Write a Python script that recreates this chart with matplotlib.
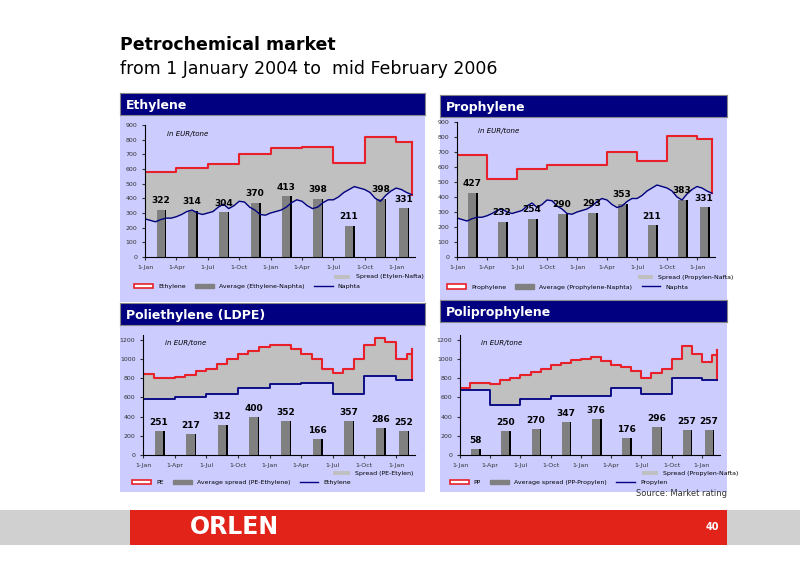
import matplotlib
matplotlib.use("Agg")
import matplotlib.pyplot as plt
import numpy as np
from matplotlib.patches import Rectangle
from matplotlib.lines import Line2D

ticks = [0, 3, 6, 9, 12, 15, 18, 21, 24]
tick_labels = ["1-Jan", "1-Apr", "1-Jul", "1-Oct", "1-Jan", "1-Apr", "1-Jul", "1-Oct", "1-Jan"]
quarter_edges = [0, 3, 6, 9, 12, 15, 18, 21, 24, 25.5]
bar_pos = [1.5, 4.5, 7.5, 10.5, 13.5, 16.5, 19.5, 22.5, 24.7]

ethylene_q = [580, 605, 635, 700, 740, 750, 640, 820, 785]
propylene_q = [680, 520, 585, 610, 615, 700, 640, 805, 785]
naphtha = [260, 250, 240, 255, 265, 265, 275, 290, 310, 320, 300, 290, 300, 310, 340, 360,
           330, 350, 380, 375, 340, 320, 290, 285, 300, 310, 320, 340, 370, 390, 380, 350,
           330, 340, 370, 390, 390, 410, 440, 460, 480, 470, 460, 440, 400, 380, 420, 450,
           470, 460, 440, 425]
pe = [840, 800, 800, 810, 830, 880, 900, 950, 1000, 1050, 1080, 1120, 1150, 1150, 1100,
      1050, 1000, 900, 850, 900, 1000, 1150, 1220, 1180, 1000, 1050, 1100]
pp = [700, 750, 750, 740, 780, 800, 830, 860, 900, 940, 960, 990, 1000, 1020, 980, 940,
      920, 880, 800, 850, 900, 1000, 1140, 1050, 970, 1040, 1090]

eth_spread = [322, 314, 304, 370, 413, 398, 211, 398, 331]
pro_spread = [427, 232, 254, 290, 293, 353, 211, 383, 331]
pe_spread = [251, 217, 312, 400, 352, 166, 357, 286, 252]
pp_spread = [58, 250, 270, 347, 376, 176, 296, 257, 257]

NAVY = "#000080"
RED = "#e8202a"
BG = "#ccccff"
W, H = 800, 565
fig = plt.figure(figsize=(8, 5.65), dpi=100)
fig.patch.set_facecolor("white")

def fr(x0, y0, x1, y1):
    return [x0 / W, 1 - y1 / H, (x1 - x0) / W, (y1 - y0) / H]

def qstep(vals):
    x = np.array(quarter_edges)
    y = np.array(list(vals) + [vals[-1]])
    return x, y

def mstep(vals):
    x = np.array(list(range(len(vals) - 1)) + [25.5])
    return x, np.array(vals)

def nline():
    x = np.arange(len(naphtha)) * 0.5
    return x, np.array(naphtha)

def panel(box, title, axbox, ymax, ystep, prod, feed, feed_is_line, bars, labels_leg, spread_lbl, fsz):
    bg = fig.add_axes(fr(*box)); bg.set_facecolor(BG); bg.set_xticks([]); bg.set_yticks([])
    for s in bg.spines.values(): s.set_visible(False)
    tb = fig.add_axes(fr(box[0], box[1] - 22, box[2], box[1]))
    tb.set_facecolor(NAVY); tb.set_xticks([]); tb.set_yticks([])
    for s in tb.spines.values(): s.set_color("#888888")
    tb.text(0.02, 0.45, title, color="white", fontsize=9, fontweight="bold", va="center", transform=tb.transAxes)
    ax = fig.add_axes(fr(*axbox)); ax.set_facecolor(BG)
    px, py = prod
    fx, fy = feed
    xx = np.linspace(0, 25.5, 1000)
    pyi = py[np.clip(np.searchsorted(px, xx, side="right") - 1, 0, len(py) - 1)]
    if feed_is_line:
        fyi = np.interp(xx, fx, fy)
    else:
        fyi = fy[np.clip(np.searchsorted(fx, xx, side="right") - 1, 0, len(fy) - 1)]
    ax.fill_between(xx, fyi, pyi, color="#c0c0c0", lw=0)
    ax.step(px, py, where="post", color=RED, lw=1.5)
    ax.plot([25.5, 25.5], [fyi[-1], py[-1]], color=RED, lw=1.5)
    if feed_is_line:
        ax.plot(fx, fy, color=NAVY, lw=1)
    else:
        ax.step(fx, fy, where="post", color=NAVY, lw=1.3)
    ax.bar(np.array(bar_pos) + 0.15, bars, width=0.8, color="black")
    ax.bar(bar_pos, bars, width=0.8, color="#808080")
    for x, v in zip(bar_pos, bars):
        ax.text(x, v + ymax * 0.05, str(v), ha="center", fontsize=6.5, fontweight="bold")
    ax.set_xlim(0, 25.8); ax.set_ylim(0, ymax)
    ax.set_yticks(np.arange(0, ymax + 1, ystep))
    ax.set_xticks(ticks); ax.set_xticklabels(tick_labels)
    ax.tick_params(labelsize=4.5, length=2, colors="#333333")
    for s in ["top", "right"]: ax.spines[s].set_visible(False)
    ax.text(0.08, 0.92, "in EUR/tone", transform=ax.transAxes, fontsize=5, style="italic")
    handles = [Rectangle((0, 0), 1, 1, fc="white", ec=RED, lw=1.2),
               Rectangle((0, 0), 1, 1, fc="#808080", ec="#808080"),
               Line2D([], [], color=NAVY, lw=1)]
    leg = ax.legend(handles, labels_leg, ncol=3, fontsize=4.5, frameon=False,
                    loc="upper left", bbox_to_anchor=(-0.06, -0.16), handlelength=3, columnspacing=1.5)
    ax.text(0.72, -0.17, "", transform=ax.transAxes)
    ax.add_patch(Rectangle((0.70, -0.165), 0.06, 0.03, transform=ax.transAxes, fc="#c0c0c0", clip_on=False))
    ax.text(0.78, -0.15, spread_lbl, transform=ax.transAxes, fontsize=4.5, va="center")
    return ax

panel((120, 115, 425, 302), "Ethylene", (145, 125, 415, 257), 900, 100,
      qstep(ethylene_q), nline(), True, eth_spread,
      ["Ethylene", "Average (Ethylene-Naphta)", "Naphta"], "Spread (Etylen-Nafta)", 6)
panel((440, 117, 727, 302), "Prophylene", (457, 122, 715, 257), 900, 100,
      qstep(propylene_q), nline(), True, pro_spread,
      ["Prophylene", "Average (Prophylene-Naphta)", "Naphta"], "Spread (Propylen-Nafta)", 6)
panel((120, 325, 425, 492), "Poliethylene (LDPE)", (143, 335, 415, 455), 1250, 200,
      mstep(pe), qstep(ethylene_q), False, pe_spread,
      ["PE", "Average spread (PE-Ethylene)", "Ethylene"], "Spread (PE-Etylen)", 6)
panel((440, 322, 727, 492), "Poliprophylene", (460, 335, 720, 455), 1250, 200,
      mstep(pp), qstep(propylene_q), False, pp_spread,
      ["PP", "Average spread (PP-Propylen)", "Propylen"], "Spread (Propylen-Nafta)", 6)

fig.text(120 / W, 1 - 45 / H, "Petrochemical market", fontsize=12.5, fontweight="bold", va="center")
fig.text(120 / W, 1 - 69 / H, "from 1 January 2004 to  mid February 2006", fontsize=12.5, va="center")
fig.text(727 / W, 1 - 493 / H, "Source: Market rating", fontsize=6, ha="right", va="center", color="#333333")

fig.add_artist(Rectangle((0, 1 - 545 / H), 1, 35 / H, transform=fig.transFigure, fc="#d0d0d0", ec="none"))
fig.add_artist(Rectangle((130 / W, 1 - 545 / H), 597 / W, 35 / H, transform=fig.transFigure, fc="#e2231a", ec="none"))
fig.text(190 / W, 1 - 527 / H, "ORLEN", fontsize=17, fontweight="bold", color="white", va="center")
fig.text(712 / W, 1 - 527 / H, "40", fontsize=7, color="white", va="center", ha="center", fontweight="bold")

fig.savefig("out.png", dpi=100)
